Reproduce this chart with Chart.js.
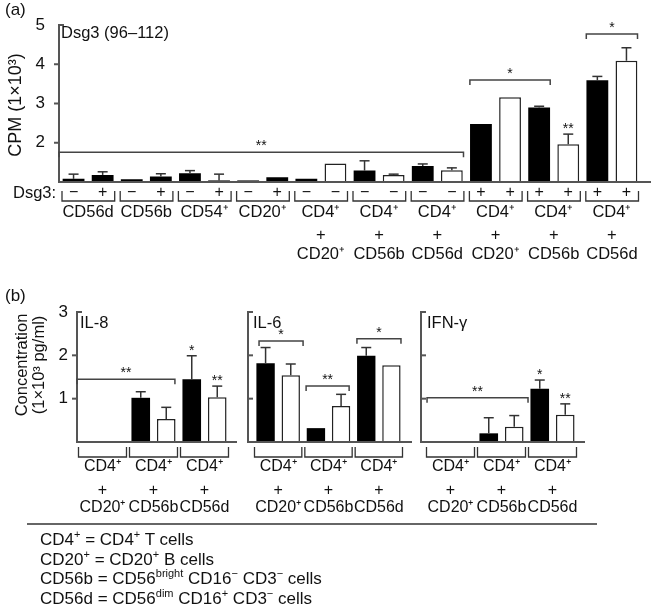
<!DOCTYPE html>
<html>
<head>
<meta charset="utf-8">
<script src="https://cdn.jsdelivr.net/npm/chart.js@4"></script>
<style>
body { margin: 0; background: #fff; }
#fig { position: relative; width: 652px; height: 609px; overflow: hidden; font-family: 'Liberation Sans', Arial, sans-serif; color: #111; }
#fig canvas { position: absolute; left: 0; top: 0; }
#rule { position: absolute; left: 27px; top: 523px; width: 570px; border-top: 2px solid #666; }
#notes { position: absolute; left: 40px; top: 530px; font-size: 17px; line-height: 19.5px; white-space: nowrap; }
#notes sup { font-size: 11px; line-height: 0; }
</style>
</head>
<body>
<div id="fig">
  <canvas id="pa" width="652" height="609"></canvas>
  <canvas id="il8" width="652" height="609"></canvas>
  <canvas id="il6" width="652" height="609"></canvas>
  <canvas id="ifn" width="652" height="609"></canvas>
  <div id="rule"></div>
  <div id="notes">
    CD4<sup>+</sup> = CD4<sup>+</sup> T cells<br>
    CD20<sup>+</sup> = CD20<sup>+</sup> B cells<br>
    CD56b = CD56<sup>bright</sup> CD16<sup>−</sup> CD3<sup>−</sup> cells<br>
    CD56d = CD56<sup>dim</sup> CD16<sup>+</sup> CD3<sup>−</sup> cells
  </div>
</div>
<script>
const FONT = "'Liberation Sans', Arial, sans-serif";

// (a) proliferation to Dsg3 (96-112), CPM x1000
const aCells = ['CD56d', 'CD56b', 'CD54⁺', 'CD20⁺', 'CD4⁺', 'CD4⁺', 'CD4⁺', 'CD4⁺', 'CD4⁺', 'CD4⁺'];
const aPartner = ['', '', '', '', 'CD20⁺', 'CD56b', 'CD56d', 'CD20⁺', 'CD56b', 'CD56d'];
const aDsg3 = ['−', '+', '−', '+', '−', '+', '−', '+', '−', '−', '−', '−', '−', '−', '+', '+', '+', '+', '+', '+'];
const aCpm = [1.08, 1.18, 1.07, 1.14, 1.22, 1.04, 1.04, 1.12, 1.08, 1.47, 1.29, 1.18, 1.41, 1.30, 2.48, 3.16, 2.90, 1.96, 3.59, 4.09];
const aSem = [0.12, 0.08, 0, 0.07, 0.07, 0.16, 0, 0, 0, 0, 0.25, 0.02, 0.05, 0.06, 0, 0, 0.03, 0.26, 0.10, 0.33];
const aFilled = [1, 1, 1, 1, 1, 1, 1, 1, 1, 0, 1, 0, 1, 0, 1, 0, 1, 0, 1, 0];
const aTicks = [2, 3, 4, 5];

// (b) cytokines, 1x10^3 pg/ml
const bCells = ['CD4⁺', 'CD4⁺', 'CD4⁺'];
const bPartner = ['CD20⁺', 'CD56b', 'CD56d'];
const il8 = [0, 0, 1.02, 0.53, 1.45, 1.03];
const il8Sem = [0, 0, 0.14, 0.27, 0.54, 0.26];
const il6 = [1.82, 1.54, 0.32, 0.83, 1.99, 1.77];
const il6Sem = [0.36, 0.26, 0, 0.27, 0.19, 0];
const ifng = [0, 0, 0.20, 0.35, 1.23, 0.63];
const ifngSem = [0, 0, 0.36, 0.26, 0.20, 0.25];
const bFilled = [1, 0, 1, 0, 1, 0];
const bTicks = [1, 2, 3];

function seg(ctx, x1, y1, x2, y2) {
  ctx.beginPath(); ctx.moveTo(x1, y1); ctx.lineTo(x2, y2); ctx.stroke();
}
function txt(ctx, s, x, y, size, align) {
  ctx.font = size + 'px ' + FONT;
  ctx.textAlign = align || 'center';
  ctx.textBaseline = 'middle';
  ctx.fillText(s, x, y);
}
function stars(ctx, s, x, y) {
  ctx.font = '14px ' + FONT;
  ctx.textAlign = 'center';
  ctx.textBaseline = 'alphabetic';
  ctx.fillText(s, x, y + 8);
}
function vtxt(ctx, s, x, y, size) {
  ctx.save(); ctx.translate(x, y); ctx.rotate(-Math.PI / 2);
  txt(ctx, s, 0, 0, size); ctx.restore();
}

// everything that is not a bar: error bars, axes, brackets, labels
const decor = {
  id: 'decor',
  afterDraw(chart, args, o) {
    const ctx = chart.ctx, xs = chart.scales.x, ys = chart.scales.y, ca = chart.chartArea;
    const bars = chart.getDatasetMeta(0).data;
    const vals = chart.data.datasets[0].data;
    ctx.save();
    ctx.fillStyle = '#111';

    ctx.strokeStyle = '#333'; ctx.lineWidth = 1.5;
    o.sem.forEach((e, i) => {
      if (!e) return;
      const bx = bars[i].x, top = ys.getPixelForValue(vals[i] + e);
      seg(ctx, bx, ys.getPixelForValue(vals[i]), bx, top);
      seg(ctx, bx - 5, top, bx + 5, top);
    });

    const ax = ca.left - o.axisGap;
    ctx.strokeStyle = '#555'; ctx.lineWidth = 2;
    seg(ctx, ax, ca.top - 1, ax, ca.bottom);
    seg(ctx, ax - 1, ca.bottom, ca.right + o.baseExt, ca.bottom);
    o.ticks.forEach(t => {
      const ty = ys.getPixelForValue(t);
      const dir = t === ys.max ? 1 : o.tickDir;
      seg(ctx, ax - (dir > 0 ? 1 : 0), ty, ax + dir * 5, ty);
      if (o.tickLabels) txt(ctx, String(t), ax - o.labelGap, ty, 17, 'right');
    });

    ctx.strokeStyle = '#444'; ctx.lineWidth = 1.5;
    o.sig.forEach(s => {
      const x1 = xs.getPixelForValue(s.from), x2 = xs.getPixelForValue(s.to), by = ys.getPixelForValue(s.y);
      ctx.beginPath(); ctx.moveTo(x1, by + 5); ctx.lineTo(x1, by); ctx.lineTo(x2, by); ctx.lineTo(x2, by + 5); ctx.stroke();
      stars(ctx, s.mark, (x1 + x2) / 2, by - 10);
    });
    o.barMarks.forEach(m => {
      const top = ys.getPixelForValue(vals[m.bar] + o.sem[m.bar]);
      stars(ctx, m.mark, bars[m.bar].x, top - 9);
    });

    // group brackets and labels under the axis
    ctx.strokeStyle = '#333'; ctx.lineWidth = 1.3;
    const per = vals.length / o.cells.length;
    o.cells.forEach((c, g) => {
      const gl = xs.getPixelForValue(g * per - 0.5), gr = xs.getPixelForValue(g * per + per - 0.5);
      const l = gl + o.brk.inL, r = gr - o.brk.inR;
      ctx.beginPath(); ctx.moveTo(l, o.brk.top); ctx.lineTo(l, o.brk.bot); ctx.lineTo(r, o.brk.bot); ctx.lineTo(r, o.brk.top); ctx.stroke();
      const cx = (gl + gr) / 2;
      txt(ctx, c, cx, o.rows[0], o.labelSize);
      if (o.partner[g]) {
        txt(ctx, '+', cx, o.rows[1], o.labelSize);
        txt(ctx, o.partner[g], cx, o.rows[2], o.labelSize);
      }
    });
    if (o.signs) {
      o.signs.forEach((s, i) => txt(ctx, s, bars[i].x, o.signY, 16));
      txt(ctx, 'Dsg3:', o.signX, o.signY, 16.5, 'left');
    }

    if (o.title) txt(ctx, o.title.text, o.title.x, o.title.y, 16.5, 'left');
    if (o.tag) txt(ctx, o.tag.text, o.tag.x, o.tag.y, 17, 'left');
    (o.yTitles || []).forEach(t => vtxt(ctx, t.text, t.x, t.y, t.size));
    ctx.restore();
  }
};

function panel(id, labels, values, filled, pad, yMin, yMax, barPct, deco) {
  return new Chart(document.getElementById(id), {
    type: 'bar',
    data: {
      labels: labels,
      datasets: [{
        data: values,
        backgroundColor: filled.map(f => f ? '#000' : '#fff'),
        borderColor: '#222',
        borderWidth: filled.map(f => f ? 0 : 1.5),
        borderSkipped: 'bottom',
        barPercentage: barPct,
        categoryPercentage: 1
      }]
    },
    options: {
      responsive: false,
      animation: false,
      events: [],
      layout: { padding: pad },
      scales: {
        x: { display: false },
        y: { display: false, min: yMin, max: yMax }
      },
      plugins: { legend: { display: false }, tooltip: { enabled: false }, decor: deco }
    },
    plugins: [decor]
  });
}

panel('pa', aDsg3, aCpm, aFilled, { left: 59, right: 11, top: 25, bottom: 427 }, 1, 5, 0.75, {
  sem: aSem, ticks: aTicks, tickDir: -1, tickLabels: true, labelGap: 14, axisGap: 0, baseExt: 10,
  sig: [
    { from: -0.5, to: 13.4, y: 1.76, mark: '**' },
    { from: 13.62, to: 16.38, y: 3.60, mark: '*' },
    { from: 17.62, to: 19.38, y: 4.77, mark: '*' }
  ],
  barMarks: [{ bar: 17, mark: '**' }],
  cells: aCells, partner: aPartner, labelSize: 16.5,
  brk: { inL: 3, inR: 2.5, top: 191, bot: 201 },
  rows: [212.5, 235.5, 254],
  signs: aDsg3, signY: 193, signX: 13,
  title: { text: 'Dsg3 (96–112)', x: 61, y: 33 },
  tag: { text: '(a)', x: 5, y: 10 },
  yTitles: [{ text: 'CPM (1×10³)', x: 16, y: 105, size: 18 }]
});

const bLabels = il8.map((v, i) => bPartner[Math.floor(i / 2)]);
const bBrk = { inL: 1.5, inR: 1.5, top: 447, bot: 457 };
const bRows = [467, 491, 508];

panel('il8', bLabels, il8, bFilled, { left: 77, right: 422, top: 312, bottom: 167 }, 0, 3, 0.73, {
  sem: il8Sem, ticks: bTicks, tickDir: -1, tickLabels: true, labelGap: 9, axisGap: 0, baseExt: 7,
  sig: [{ from: -0.5, to: 3.34, y: 1.45, mark: '**' }],
  barMarks: [{ bar: 4, mark: '*' }, { bar: 5, mark: '**' }],
  cells: bCells, partner: bPartner, labelSize: 16, brk: bBrk, rows: bRows,
  title: { text: 'IL-8', x: 80, y: 323 },
  tag: { text: '(b)', x: 5, y: 296 },
  yTitles: [
    { text: 'Concentration', x: 22, y: 365, size: 16.5 },
    { text: '(1×10³ pg/ml)', x: 39, y: 365, size: 16.5 }
  ]
});

panel('il6', bLabels, il6, bFilled, { left: 253, right: 248, top: 312, bottom: 167 }, 0, 3, 0.73, {
  sem: il6Sem, ticks: bTicks, tickDir: 1, tickLabels: false, axisGap: 5, baseExt: 8,
  sig: [
    { from: -0.26, to: 1.49, y: 2.33, mark: '*' },
    { from: 1.61, to: 3.32, y: 1.29, mark: '**' },
    { from: 3.63, to: 5.38, y: 2.38, mark: '*' }
  ],
  barMarks: [],
  cells: bCells, partner: bPartner, labelSize: 16, brk: bBrk, rows: bRows,
  title: { text: 'IL-6', x: 253, y: 323 }
});

panel('ifn', bLabels, ifng, bFilled, { left: 425, right: 74, top: 312, bottom: 167 }, 0, 3, 0.73, {
  sem: ifngSem, ticks: bTicks, tickDir: 1, tickLabels: false, axisGap: 4, baseExt: 7,
  sig: [{ from: -0.42, to: 3.54, y: 1.02, mark: '**' }],
  barMarks: [{ bar: 4, mark: '*' }, { bar: 5, mark: '**' }],
  cells: bCells, partner: bPartner, labelSize: 16, brk: bBrk, rows: bRows,
  title: { text: 'IFN-γ', x: 427, y: 323 }
});
</script>
</body>
</html>
